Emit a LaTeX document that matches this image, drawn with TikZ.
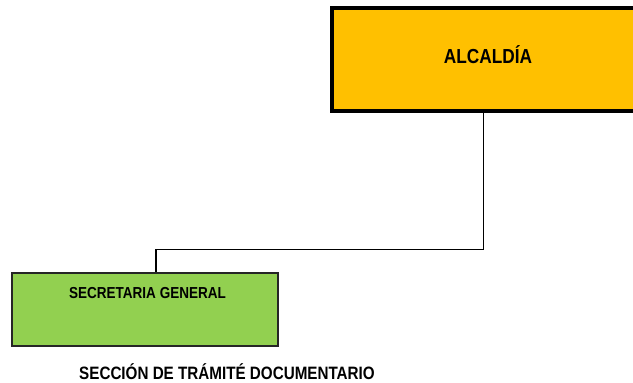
\documentclass[tikz,border=0pt]{standalone}
\usepackage{fontspec}
\newfontfamily\nb{Liberation Sans}[FakeStretch=0.85]
\definecolor{alcorange}{HTML}{FFC000}
\definecolor{secgreen}{HTML}{92D050}
\begin{document}
\begin{tikzpicture}[x=1pt,y=-1pt,
  alcbox/.style={draw=black,fill=alcorange,line width=4pt,minimum width=308pt,minimum height=103pt,inner sep=0pt},
  secbox/.style={draw=black!85,fill=secgreen,line width=1.6pt,minimum width=266pt,minimum height=73pt,inner sep=0pt},
  lbl/.style={font=\nb\bfseries,inner sep=0pt,text=black,anchor=base},
  conn/.style={draw=black,line width=1.8pt}]
\useasboundingbox (0,0) rectangle (633,383);
\clip (0,0) rectangle (633,383);
\node[alcbox] (alc) at (486,59.5) {};
\node[lbl,font=\nb\bfseries\fontsize{20.3}{24}\selectfont] (alct) at (488,63) {ALCALDÍA};
\node[secbox] (sg) at (145,309.5) {};
\node[lbl,font=\nb\bfseries\fontsize{15.9}{19}\selectfont] (sgt) at (147.5,298.3) {SECRETARIA GENERAL};
\node[lbl,font=\nb\bfseries\fontsize{17.9}{21}\selectfont] (std) at (227,379) {SECCIÓN DE TRÁMITÉ DOCUMENTARIO};
\coordinate (j1) at (483.5,249.5);
\coordinate (j2) at (156,249.5);
\draw[conn] (alc.south -| j1) -- (j1) -- (j2) -- (j2 |- sg.north);
\end{tikzpicture}
\end{document}
